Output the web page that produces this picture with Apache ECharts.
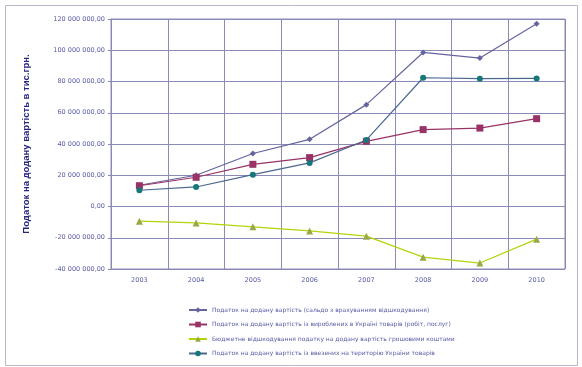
<!DOCTYPE html>
<html>
<head>
<meta charset="utf-8">
<script src="https://cdn.jsdelivr.net/npm/echarts@6/dist/echarts.min.js"></script>
<style>
html,body{margin:0;padding:0;background:#fff;}
#chart{width:582px;height:367px;}
</style>
</head>
<body>
<div id="chart"></div>
<script>
const categories = ['2003','2004','2005','2006','2007','2008','2009','2010'];
const seriesNames = [
  'Податок на додану вартість (сальдо з врахуванням відшкодування)',
  'Податок на додану вартість із вироблених в Україні товарів (робіт, послуг)',
  'Бюджетне відшкодування податку на додану вартість грошовими коштами',
  'Податок на додану вартість із ввезених на територію України товарів'
];
const vatBalance   = [13600000, 20000000, 33900000, 43000000, 65200000, 98600000, 95000000, 116900000];
const vatDomestic  = [13300000, 18700000, 27000000, 31300000, 41700000, 49200000, 50200000, 56200000];
const vatRefund    = [-9400000, -10500000, -13000000, -15600000, -19000000, -32400000, -36200000, -20900000];
const vatImport    = [10400000, 12500000, 20400000, 27900000, 42600000, 82400000, 81800000, 82000000];
const yAxisTitle = 'Податок на додану вартість в тис.грн.';

function fmt(v){
  const neg = v < 0;
  let s = Math.abs(Math.round(v)).toString();
  s = s.replace(/\B(?=(\d{3})+(?!\d))/g, ' ');
  return (neg ? '-' : '') + s + ',00';
}

const chart = echarts.init(document.getElementById('chart'));
const axisColor = '#8a8ab8';
const labelColor = '#5a5aa8';
const font = 'DejaVu Sans';

function mk(name, data, lineColor, markColor, symbol, size){
  return {
    name: name, type: 'line', data: data,
    symbol: symbol, symbolSize: size,
    lineStyle: {color: lineColor, width: 1.2},
    itemStyle: {color: markColor},
    emphasis: {disabled: true}
  };
}

chart.setOption({
  animation: false,
  backgroundColor: '#fff',
  graphic: [{
    type: 'rect', left: 3, top: 3, shape: {width: 572, height: 360},
    style: {fill: 'none', stroke: '#b8b8cc', lineWidth: 1}, silent: true
  }],
  grid: {left: 111, right: 17, top: 19, bottom: 98, show: true, borderColor: axisColor, borderWidth: 1, backgroundColor: '#fff'},
  xAxis: {
    type: 'category', data: categories, boundaryGap: true,
    axisLine: {lineStyle: {color: axisColor}},
    axisTick: {show: true, length: 3, lineStyle: {color: axisColor}},
    axisLabel: {color: labelColor, fontSize: 6.5, fontFamily: font, margin: 8},
    splitLine: {show: true, lineStyle: {color: axisColor, width: 1}}
  },
  yAxis: {
    type: 'value', min: -40000000, max: 120000000, interval: 20000000,
    name: yAxisTitle, nameLocation: 'middle', nameGap: 80,
    nameTextStyle: {color: '#262680', fontSize: 9.5, fontWeight: 'bold', fontFamily: 'Liberation Sans'},
    axisLine: {show: true, lineStyle: {color: axisColor}},
    axisTick: {show: true, length: 3, lineStyle: {color: axisColor}},
    axisLabel: {color: labelColor, fontSize: 6.5, fontFamily: font, margin: 6, formatter: fmt},
    splitLine: {show: true, lineStyle: {color: axisColor, width: 1}}
  },
  legend: {
    orient: 'vertical', left: 183, top: 302, itemGap: 8.5,
    itemWidth: 18, itemHeight: 7,
    textStyle: {color: labelColor, fontSize: 6, fontFamily: font},
    data: seriesNames
  },
  series: [
    mk(seriesNames[0], vatBalance, '#6464a0', '#6464a0', 'diamond', 6),
    mk(seriesNames[1], vatDomestic, '#993366', '#993366', 'rect', 7),
    mk(seriesNames[2], vatRefund, '#b4d40a', '#9aa848', 'triangle', 7),
    mk(seriesNames[3], vatImport, '#4a6890', '#167878', 'circle', 6)
  ]
});
</script>
</body>
</html>
